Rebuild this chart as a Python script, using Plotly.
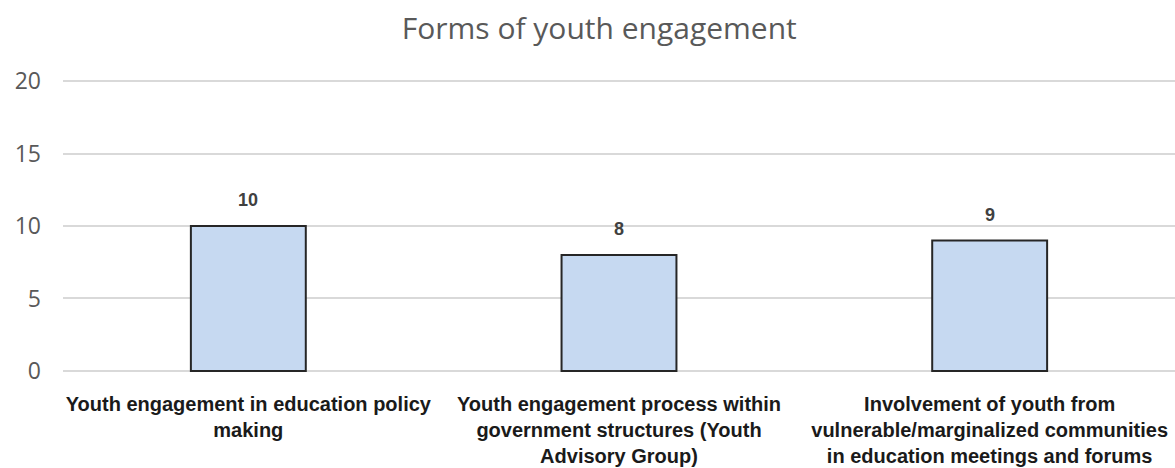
import plotly.graph_objects as go

categories = [
    "Youth engagement in education policy<br>making",
    "Youth engagement process within<br>government structures (Youth<br>Advisory Group)",
    "Involvement of youth from<br>vulnerable/marginalized communities<br>in education meetings and forums",
]
values = [10, 8, 9]
y_ticks = [0, 5, 10, 15, 20]
title_text = "Forms of youth engagement"

x_idx = list(range(len(categories)))

fig = go.Figure()
fig.add_trace(go.Bar(
    x=x_idx,
    y=values,
    width=0.31,
    marker=dict(color="#c6d9f1", line=dict(color="#262626", width=2)),
    hoverinfo="skip",
))

for xi, v in zip(x_idx, values):
    fig.add_annotation(
        x=xi, y=v, text=f"<b>{v}</b>", showarrow=False,
        yshift=26, font=dict(family="Liberation Sans, sans-serif", size=18, color="#404040"),
    )

fig.update_layout(
    width=1175, height=468,
    margin=dict(l=63, r=0, t=80, b=96),
    paper_bgcolor="white", plot_bgcolor="white",
    showlegend=False,
    title=dict(text=title_text, x=0.51, xanchor="center", y=0.94, yanchor="middle",
               font=dict(family="Open Sans, sans-serif", size=30, color="#595959")),
    xaxis=dict(
        tickmode="array", tickvals=x_idx, ticktext=[f"<b>{c}</b>" for c in categories],
        range=[-0.5, 2.5], showgrid=False, zeroline=False, showline=False, ticks="",
        tickfont=dict(family="Liberation Sans, sans-serif", size=20, color="#1a1a1a"),
        ticklabelstandoff=18,
    ),
    yaxis=dict(
        range=[-0.07, 20.07], tickvals=y_ticks, showgrid=True, gridcolor="#d9d9d9", gridwidth=2,
        zeroline=False, showline=False, ticks="",
        tickfont=dict(family="Open Sans, sans-serif", size=23, color="#595959"),
        ticklabelstandoff=21,
    ),
)

fig.write_html("out.html")
